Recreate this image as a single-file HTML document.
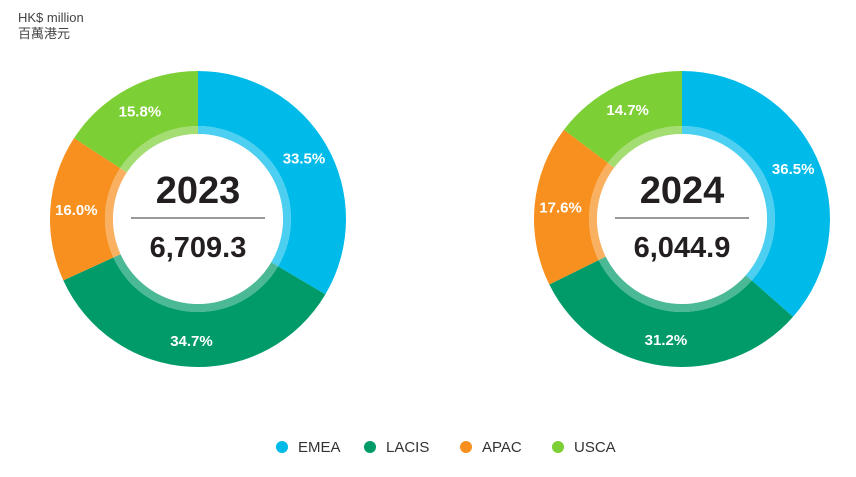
<!DOCTYPE html>
<html><head><meta charset="utf-8"><style>
body{margin:0;width:856px;height:477px;background:#fff;font-family:"Liberation Sans","Noto Sans CJK TC",sans-serif;overflow:hidden;position:relative}
#unit{position:absolute;left:18px;top:10px;font-size:13px;color:#444;line-height:16px}
</style></head><body>
<div id="unit">HK$ million<br>百萬港元</div>
<svg id="chart" width="856" height="477" style="position:absolute;left:0;top:0"></svg>
<script>
const categories=["EMEA","LACIS","APAC","USCA"];
const colors=["#00bbe9","#009b69","#f7901e","#7dcf36"];
const years=["2023","2024"];
const totals=["6,709.3","6,044.9"];
const shares2023=[33.5,34.7,16.0,15.8];
const shares2024=[36.5,31.2,17.6,14.7];
const allShares=[shares2023,shares2024];
const centersX=[198,682];
const cy=219,R=148,RW=85,RR=93;
const svg=document.getElementById('chart');
const NS="http://www.w3.org/2000/svg";
function mk(t,a){const e=document.createElementNS(NS,t);for(const k in a)e.setAttribute(k,a[k]);svg.appendChild(e);return e;}
function pt(cx,r,a){return [cx+r*Math.sin(a),cy-r*Math.cos(a)];}
function arc(cx,r0,r1,a0,a1){const l=(a1-a0)>Math.PI?1:0;const p0=pt(cx,r1,a0),p1=pt(cx,r1,a1),p2=pt(cx,r0,a1),p3=pt(cx,r0,a0);
return `M${p0}A${r1},${r1} 0 ${l} 1 ${p1}L${p2}A${r0},${r0} 0 ${l} 0 ${p3}Z`;}
allShares.forEach((sh,i)=>{
  const cx=centersX[i];const tot=sh.reduce((a,b)=>a+b,0);let a=0;
  sh.forEach((v,j)=>{
    const a1=a+v/tot*2*Math.PI;
    const s=mk('path',{d:arc(cx,RR,R,a,a1),fill:colors[j]});
    
    
    const rg=mk('path',{d:arc(cx,RW,RR,a,a1),fill:colors[j],opacity:0.7});
    
    
    const m=(a+a1)/2;const p=pt(cx,122,m);
    const t=mk('text',{x:p[0],y:p[1]+5,'text-anchor':'middle','font-size':15,'font-weight':'bold',fill:'#fff'});
    t.textContent=v.toFixed(1)+'%';
    
    
    a=a1;
  });
  const c=mk('circle',{cx:cx,cy:cy,r:RW,fill:'#fff'});
  
  
  const y=mk('text',{x:cx,y:cy-16,'text-anchor':'middle','font-size':38,'font-weight':'bold',fill:'#231f20'});
  y.textContent=years[i];
  
  
  const ln=mk('line',{x1:cx-67,x2:cx+67,y1:cy-1,y2:cy-1,stroke:'#333','stroke-width':1});
  
  
  const tv=mk('text',{x:cx,y:cy+38,'text-anchor':'middle','font-size':29,'font-weight':'bold',fill:'#231f20'});
  tv.textContent=totals[i];
  
  
});
const legX=[282,370,466,558];
categories.forEach((c,j)=>{
  const d=mk('circle',{cx:legX[j],cy:447,r:6,fill:colors[j]});
  
  
  const t=mk('text',{x:legX[j]+16,y:452,'font-size':15,fill:'#333'});
  t.textContent=c;
  
  
});
</script>
</body></html>
